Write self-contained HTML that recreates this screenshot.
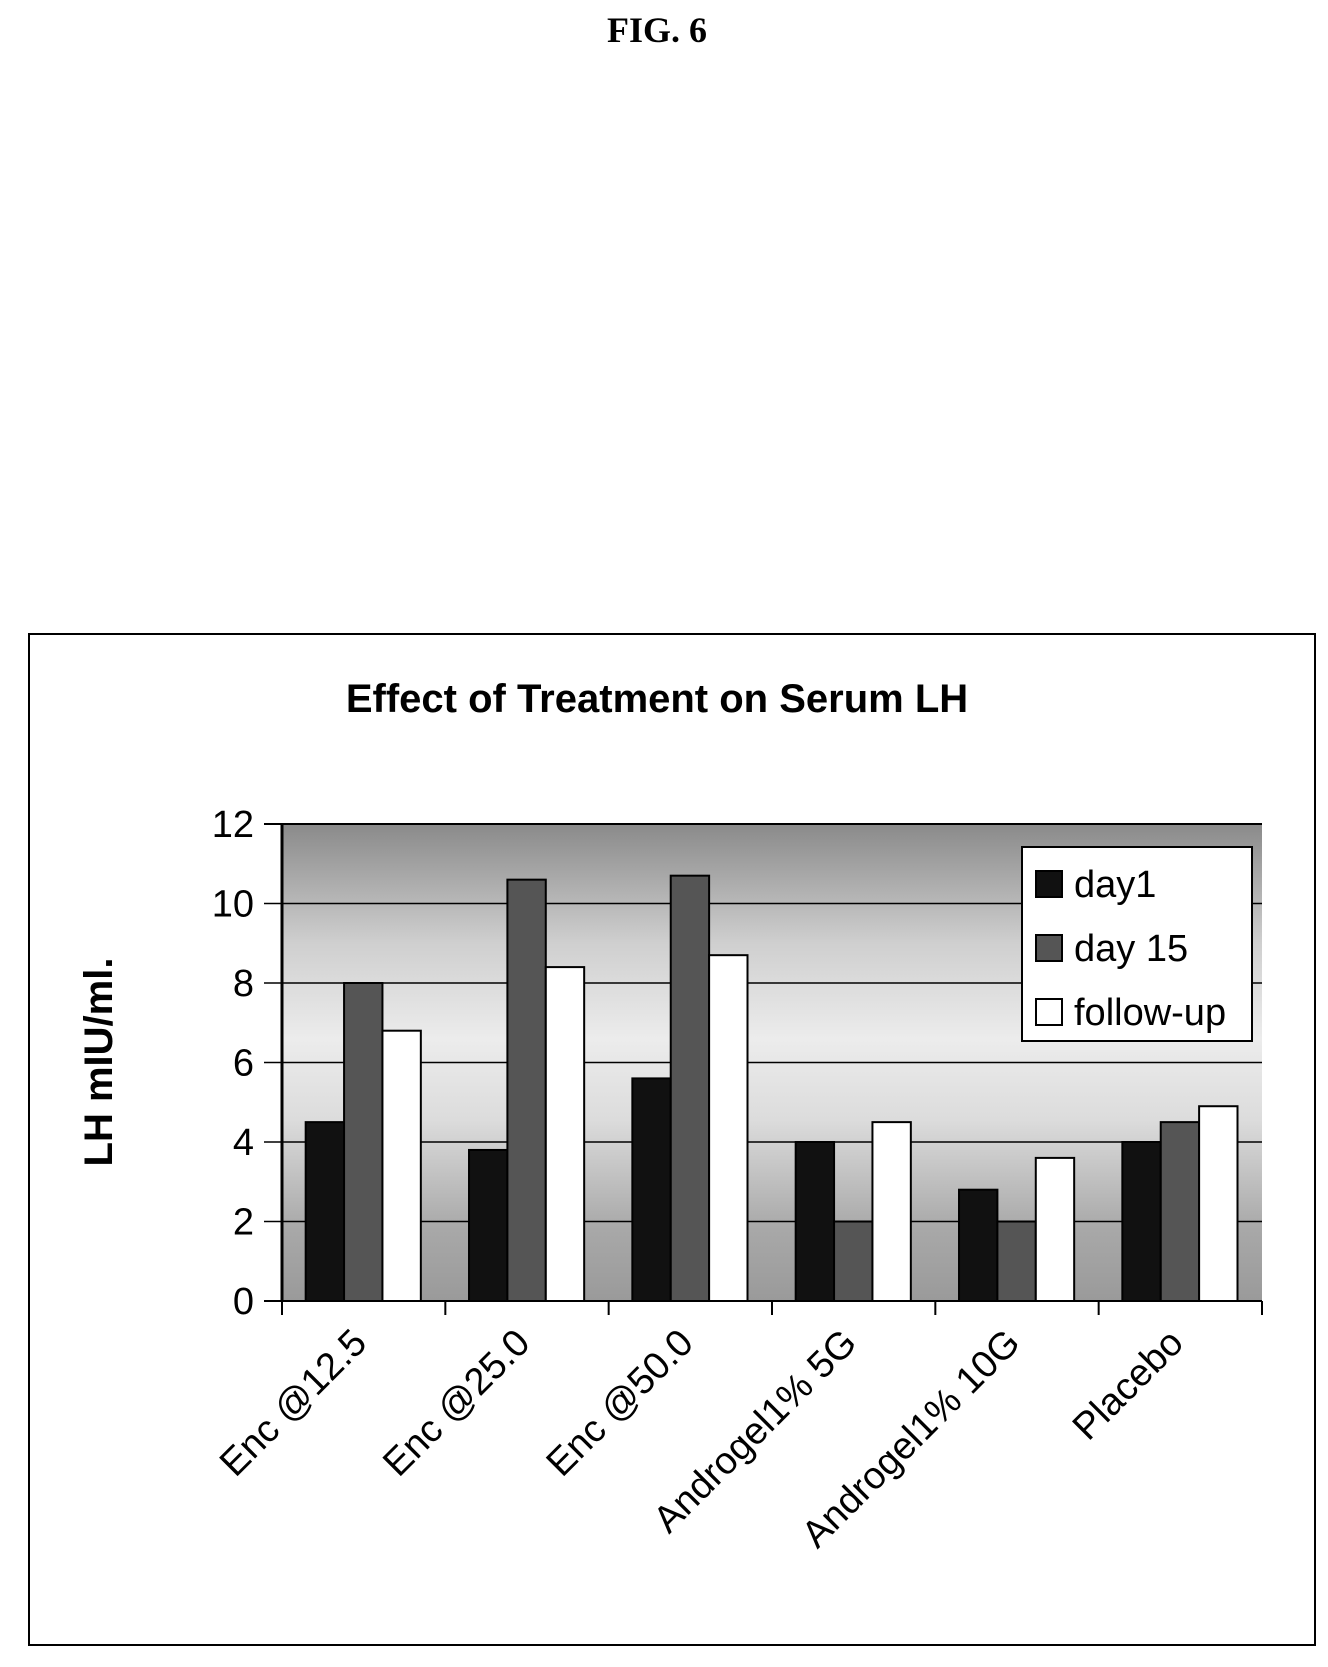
<!DOCTYPE html>
<html><head><meta charset="utf-8"><style>
body{margin:0;background:#fff;width:1328px;height:1662px;overflow:hidden;font-family:"Liberation Sans",sans-serif}
</style></head><body>
<svg width="1328" height="1662" xmlns="http://www.w3.org/2000/svg">
<defs>
<linearGradient id="bg" x1="0" y1="0" x2="0" y2="1">
<stop offset="0" stop-color="#8a8a8a"/><stop offset="0.25" stop-color="#cfcfcf"/><stop offset="0.45" stop-color="#ececec"/><stop offset="0.62" stop-color="#dcdcdc"/><stop offset="0.85" stop-color="#a8a8a8"/><stop offset="1" stop-color="#9a9a9a"/>
</linearGradient>
</defs>
<text x="657" y="42" text-anchor="middle" font-family="Liberation Serif" font-weight="bold" font-size="36">FIG. 6</text>
<rect x="29" y="634" width="1286" height="1011" fill="none" stroke="#000" stroke-width="2"/>
<text x="657" y="712" text-anchor="middle" font-weight="bold" font-size="40">Effect of Treatment on Serum LH</text>
<g id="plot"></g>
</svg>
<script>
const categories=["Enc @12.5","Enc @25.0","Enc @50.0","Androgel1%  5G","Androgel1% 10G","Placebo"];
const day1=[4.5,3.8,5.6,4.0,2.8,4.0];
const day15=[8.0,10.6,10.7,2.0,2.0,4.5];
const followup=[6.8,8.4,8.7,4.5,3.6,4.9];
const yTicks=[0,2,4,6,8,10,12];
const seriesNames=["day1","day 15","follow-up"];
const NS="http://www.w3.org/2000/svg";
const L=282,R=1262,T=824,B=1301,yMax=12;
const y=v=>B-(v/yMax)*(B-T);
const cw=(R-L)/categories.length;
const g=document.getElementById('plot');
function mk(t,a){const e=document.createElementNS(NS,t);for(const k in a)e.setAttribute(k,a[k]);g.appendChild(e);return e;}
let bgr=mk('rect',{x:L,y:T,width:R-L,height:B-T,fill:'url(#bg)'});


yTicks.forEach(v=>{
 let l=mk('line',{x1:L-18,x2:R,y1:y(v),y2:y(v),stroke:'#000','stroke-width':v===0||v===12?2:1.5});
 
 
 let t=mk('text',{x:254,y:y(v)+13,'text-anchor':'end','font-size':38});
 t.textContent=v;
 
 
});
let ax=mk('line',{x1:L,x2:L,y1:T,y2:B,stroke:'#000','stroke-width':3});


for(let i=0;i<=categories.length;i++){
 let tk=mk('line',{x1:L+i*cw,x2:L+i*cw,y1:B,y2:B+14,stroke:'#000','stroke-width':2});
 
 
}
const fills=['#111','#555','#fff'];
const series=[day1,day15,followup];
const bw=cw*0.235;
categories.forEach((c,i)=>{
 series.forEach((s,j)=>{
  const x=L+i*cw+cw*0.145+j*bw;
  let r=mk('rect',{x:x,y:y(s[i]),width:bw,height:B-y(s[i]),fill:fills[j],stroke:'#000','stroke-width':2});
  
  
 });
 const cx=L+i*cw+cw/2+5;
 let t=mk('text',{transform:`translate(${cx},1345) rotate(-45)`,'text-anchor':'end','font-size':38});
 t.textContent=c;
 
 
});
let yt=mk('text',{transform:'translate(112,1062) rotate(-90)','text-anchor':'middle','font-size':40,'font-weight':'bold'});
yt.textContent='LH mIU/ml.';


let lg=mk('rect',{x:1022,y:847,width:230,height:194,fill:'#fff',stroke:'#000','stroke-width':2});


seriesNames.forEach((n,j)=>{
 const yy=885+j*64;
 let s=mk('rect',{x:1036,y:yy-14,width:26,height:26,fill:fills[j],stroke:'#000','stroke-width':2});
 
 
 let t=mk('text',{x:1074,y:yy+12,'font-size':38});
 t.textContent=n;
 
 
});
</script>
</body></html>
